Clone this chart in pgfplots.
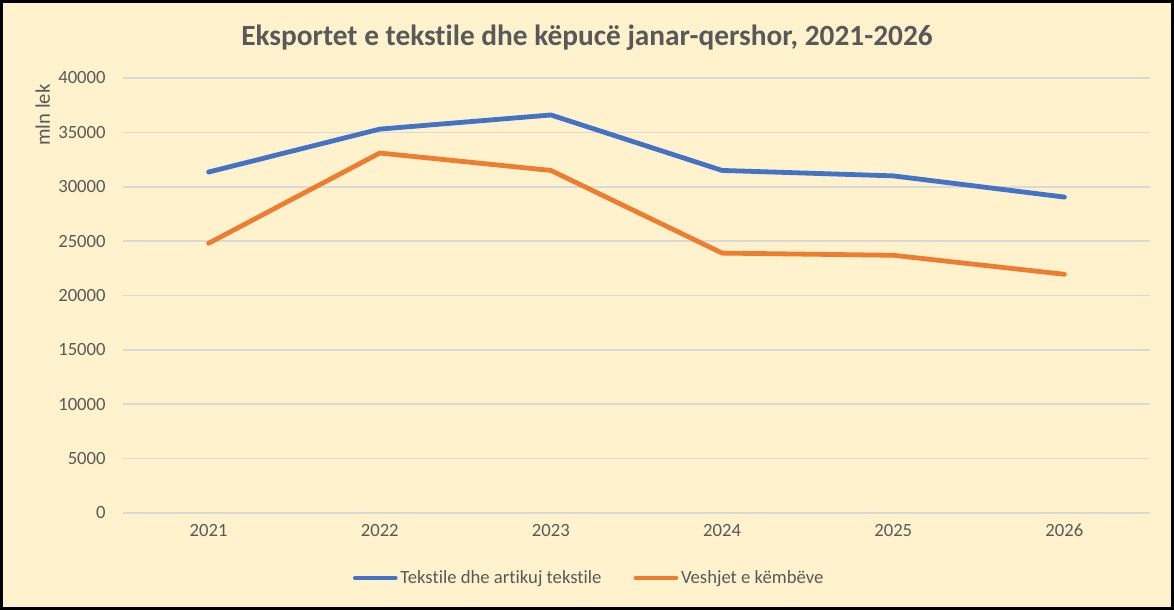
\documentclass[border=0pt]{standalone}
\usepackage{fontspec}
\setmainfont{Carlito}[Ligatures={NoCommon}]
\usepackage{pgfplots}
\pgfplotsset{compat=1.18}

\definecolor{chartbg}{HTML}{FFF2CC}
\definecolor{txtgray}{HTML}{595959}
\definecolor{gridgray}{HTML}{D9D9D9}
\definecolor{serblue}{HTML}{4472C4}
\definecolor{serorange}{HTML}{ED7D31}

\begin{document}
\begin{tikzpicture}
  % chart area background and frame
  \fill[chartbg] (0pt,0pt) rectangle (880.5pt,457.5pt);
  \draw[black, line width=2pt] (1pt,1pt) rectangle (879.5pt,456.5pt);
  \useasboundingbox (0pt,0pt) rectangle (880.5pt,457.5pt);

  \begin{axis}[
    at={(92.25pt,72.75pt)}, anchor=south west,
    scale only axis,
    width=770.25pt, height=326.25pt,
    xmin=-0.5, xmax=5.5,
    ymin=0, ymax=40000,
    xtick={0,1,2,3,4,5},
    xticklabels={2021,2022,2023,2024,2025,2026},
    ytick={0,5000,...,40000},
    scaled y ticks=false,
    axis line style={draw=none},
    major tick length=0pt,
    ymajorgrids,
    grid style={gridgray, line width=1.2pt},
    tick label style={font=\fontsize{14}{16}\selectfont, text=txtgray},
    /pgf/number format/assume math mode=true,
    /pgf/number format/1000 sep={},
    yticklabel style={xshift=-9.5pt},
    xticklabel style={yshift=-5pt},
    legend style={
      at={(0.4542,-0.1494)}, anchor=center,
      draw=none, fill=none,
      font=\fontsize{14}{16}\selectfont, text=txtgray,
      legend columns=2,
      /tikz/every even column/.append style={column sep=22pt},
    },
    legend image code/.code={\draw[#1, line cap=round] (0pt,0pt) -- (30pt,0pt);},
  ]
    \addplot[serblue, line width=3.6pt, line join=round, line cap=round]
      coordinates {(0,31350) (1,35300) (2,36600) (3,31500) (4,31000) (5,29050)};
    \addlegendentry{Tekstile dhe artikuj tekstile}
    \addplot[serorange, line width=3.6pt, line join=round, line cap=round]
      coordinates {(0,24800) (1,33100) (2,31500) (3,23900) (4,23700) (5,21950)};
    \addlegendentry{Veshjet e këmbëve}
  \end{axis}

  % title and axis label
  \node[font=\bfseries\fontsize{22}{26}\selectfont, text=txtgray]
    at (440.25pt,429pt) {Eksportet e tekstile dhe këpucë janar-qershor, 2021-2026};
  \node[font=\fontsize{15.5}{18}\selectfont, text=txtgray, rotate=90]
    at (32pt,371.25pt) {mln lek};
\end{tikzpicture}
\end{document}
